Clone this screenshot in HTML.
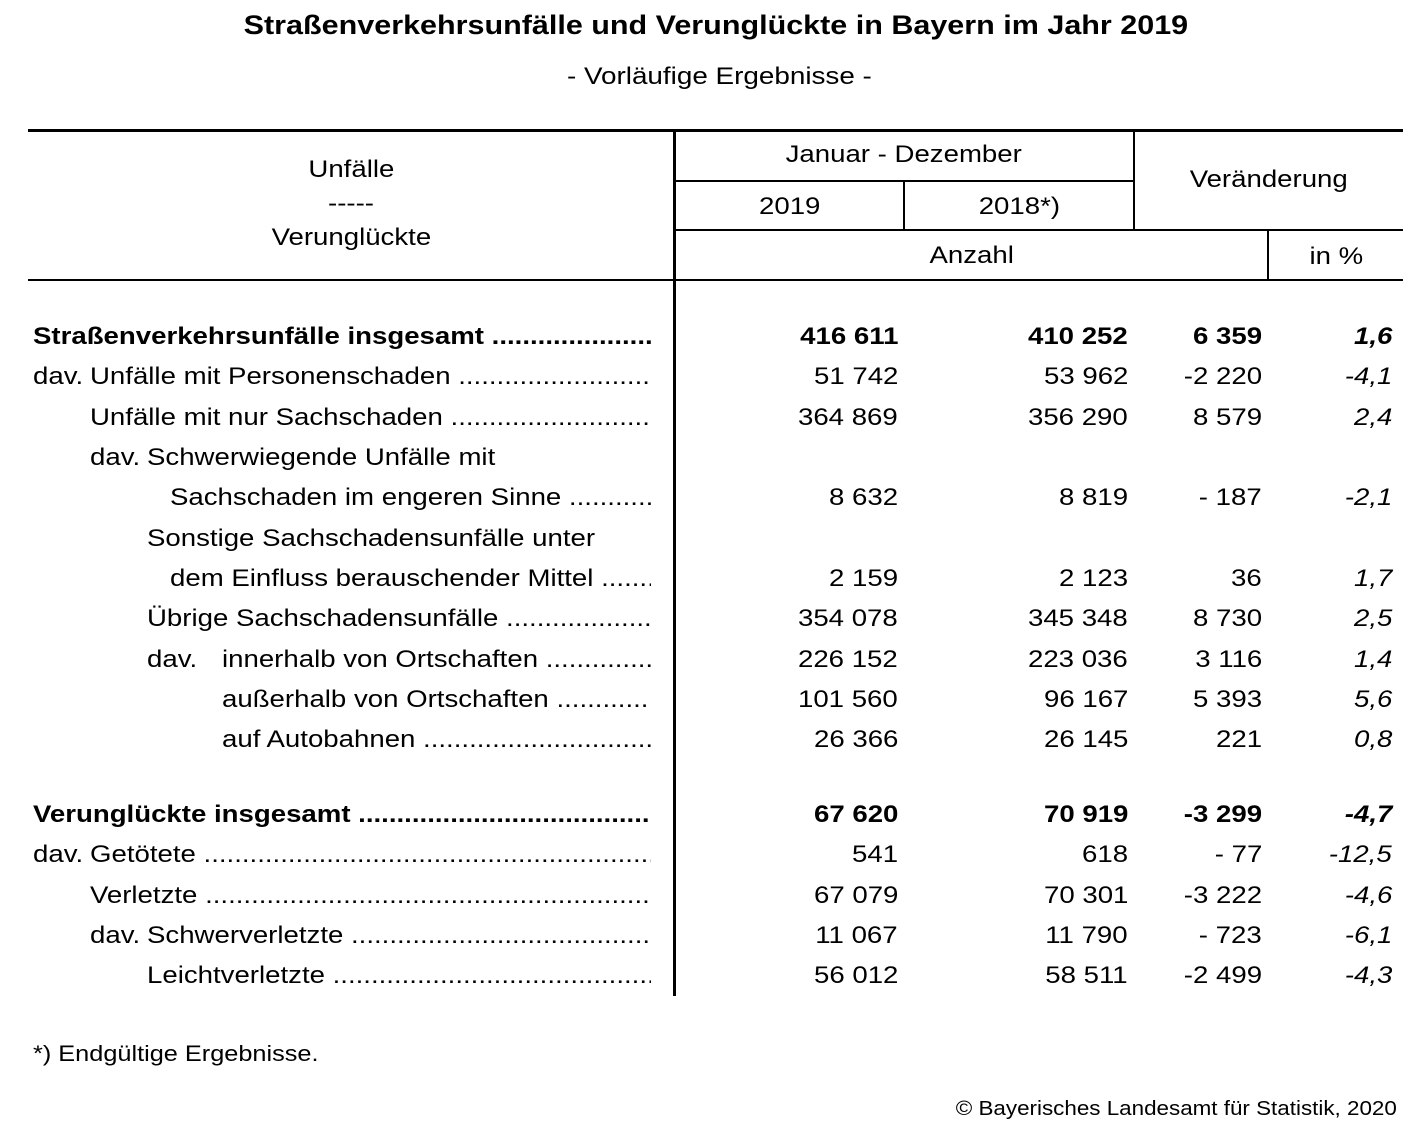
<!DOCTYPE html>
<html><head><meta charset="utf-8">
<style>
body{margin:0;width:1423px;height:1144px;background:#fff;font-family:"Liberation Sans",Arial,sans-serif;color:#000;position:relative;overflow:hidden}
.a{position:absolute;white-space:nowrap}
.h{position:absolute;background:#000}
.t{font-size:24px;line-height:28px}
.s{display:inline-block;transform:scaleX(1.15)}
.lab{position:absolute;font-size:24px;line-height:28px;white-space:nowrap;overflow:hidden}
.pre{position:absolute;font-size:24px;line-height:28px;white-space:nowrap}
.lab .s,.pre .s{transform-origin:left center}
.num{position:absolute;font-size:24px;line-height:28px;text-align:right;white-space:nowrap}
.num .s{transform-origin:right center}
.b{font-weight:bold}
.i{font-style:italic}
</style></head><body>
<div class="a b" style="left:0;width:1432px;text-align:center;top:10px;font-size:27px"><span class="s" style="transform:scaleX(1.13)">Straßenverkehrsunfälle und Verunglückte in Bayern im Jahr 2019</span></div>
<div class="a" style="left:0;width:1438px;text-align:center;top:63px;font-size:24px"><span class="s" style="transform:scaleX(1.16)">- Vorläufige Ergebnisse -</span></div>

<div class="h" style="left:28px;top:129px;width:1375px;height:3px"></div>
<div class="h" style="left:673px;top:129px;width:3px;height:867px"></div>
<div class="h" style="left:675px;top:180px;width:460px;height:2px"></div>
<div class="h" style="left:1133px;top:129px;width:2px;height:102px"></div>
<div class="h" style="left:903px;top:180px;width:2px;height:51px"></div>
<div class="h" style="left:675px;top:229px;width:728px;height:2px"></div>
<div class="h" style="left:1267px;top:229px;width:2px;height:52px"></div>
<div class="h" style="left:28px;top:279px;width:1375px;height:2px"></div>

<div class="a t" style="left:28px;width:646px;text-align:center;top:156px"><span class="s">Unfälle</span></div>
<div class="a t" style="left:28px;width:646px;text-align:center;top:190px"><span class="s">-----</span></div>
<div class="a t" style="left:28px;width:646px;text-align:center;top:224px"><span class="s">Verunglückte</span></div>
<div class="a t" style="left:675px;width:458px;text-align:center;top:141px"><span class="s">Januar - Dezember</span></div>
<div class="a t" style="left:675px;width:229px;text-align:center;top:193px"><span class="s">2019</span></div>
<div class="a t" style="left:905px;width:229px;text-align:center;top:193px"><span class="s">2018*)</span></div>
<div class="a t" style="left:1135px;width:268px;text-align:center;top:166px"><span class="s">Veränderung</span></div>
<div class="a t" style="left:675px;width:593px;text-align:center;top:242px"><span class="s">Anzahl</span></div>
<div class="a t" style="left:1269px;width:134px;text-align:center;top:243px"><span class="s">in %</span></div>

<div id="rows"></div>

<div class="a" style="left:33px;top:1041px;font-size:22px"><span class="s" style="transform-origin:left center">*) Endgültige Ergebnisse.</span></div>
<div class="a" style="right:26px;top:1098px;font-size:20px"><span class="s" style="transform:scaleX(1.12);transform-origin:right center">© Bayerisches Landesamt für Statistik, 2020</span></div>

<script>
const DOTS=" "+".".repeat(200);
const rows=[
 [336,"",0,33,"Straßenverkehrsunfälle insgesamt",true,true,"416 611","410 252","6 359","1,6"],
 [376,"dav.",33,90,"Unfälle mit Personenschaden",true,false,"51 742","53 962","-2 220","-4,1"],
 [417,"",0,90,"Unfälle mit nur Sachschaden",true,false,"364 869","356 290","8 579","2,4"],
 [457,"dav.",90,147,"Schwerwiegende Unfälle mit",false,false,"","","",""],
 [497,"",0,170,"Sachschaden im engeren Sinne",true,false,"8 632","8 819","- 187","-2,1"],
 [538,"",0,147,"Sonstige Sachschadensunfälle unter",false,false,"","","",""],
 [578,"",0,170,"dem Einfluss berauschender Mittel",true,false,"2 159","2 123","36","1,7"],
 [618,"",0,147,"Übrige Sachschadensunfälle",true,false,"354 078","345 348","8 730","2,5"],
 [659,"dav.",147,222,"innerhalb von Ortschaften",true,false,"226 152","223 036","3 116","1,4"],
 [699,"",0,222,"außerhalb von Ortschaften",true,false,"101 560","96 167","5 393","5,6"],
 [739,"",0,222,"auf Autobahnen",true,false,"26 366","26 145","221","0,8"],
 [814,"",0,33,"Verunglückte insgesamt",true,true,"67 620","70 919","-3 299","-4,7"],
 [854,"dav.",33,90,"Getötete",true,false,"541","618","- 77","-12,5"],
 [895,"",0,90,"Verletzte",true,false,"67 079","70 301","-3 222","-4,6"],
 [935,"dav.",90,147,"Schwerverletzte",true,false,"11 067","11 790","- 723","-6,1"],
 [975,"",0,147,"Leichtverletzte",true,false,"56 012","58 511","-2 499","-4,3"]
];
const rights=[898,1128,1262,1392];
const host=document.getElementById('rows');
function mk(cls,text){const d=document.createElement('div');d.className=cls;const s=document.createElement('span');s.className='s';s.textContent=text;d.appendChild(s);return d;}
rows.forEach((r)=>{
  const top=r[0]-13;
  if(r[1]){
    const p=mk('pre',r[1]);
    p.style.left=r[2]+'px';p.style.top=top+'px';
    
    
    host.appendChild(p);
  }
  const l=mk('lab'+(r[6]?' b':''),r[4]+(r[5]?DOTS:''));
  l.style.left=r[3]+'px';l.style.top=top+'px';
  l.style.width=(r[5]?(651-r[3]):600)+'px';
  
  
  host.appendChild(l);
  for(let c=0;c<4;c++){
    const v=r[7+c]; if(!v) continue;
    const n=mk('num'+(r[6]?' b':'')+(c==3?' i':''),v);
    n.style.left=(rights[c]-200)+'px';n.style.width='200px';n.style.top=top+'px';
    
    
    host.appendChild(n);
  }
});
</script>
</body></html>
